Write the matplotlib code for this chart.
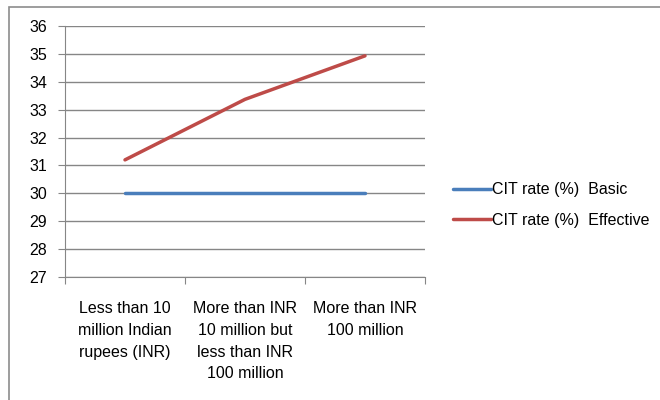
import matplotlib.pyplot as plt
from matplotlib.patches import Rectangle

categories = ["Less than 10\nmillion Indian\nrupees (INR)",
              "More than INR\n10 million but\nless than INR\n100 million",
              "More than INR\n100 million"]
basic = [30, 30, 30]
effective = [31.2, 33.37, 34.93]

plt.rcParams['font.family'] = ['Liberation Sans', 'DejaVu Sans']

fig = plt.figure(figsize=(6.6, 4.0), dpi=100)
fig.patches.append(Rectangle((9/660, -0.1), 1.2, (1 - 7/400) + 0.1, transform=fig.transFigure,
                             fill=False, edgecolor='#8c8c8c', linewidth=1.2))
ax = fig.add_axes([65/660, 1 - 277/400, (425 - 65)/660, (277 - 26)/400])

x = [0, 1, 2]
ax.plot(x, basic, color='#4a7ebb', linewidth=2.5, label='CIT rate (%)  Basic', solid_capstyle='round')
ax.plot(x, effective, color='#be4b48', linewidth=2.5, label='CIT rate (%)  Effective', solid_capstyle='round')

ax.set_xlim(-0.5, 2.5)
ax.set_ylim(27, 36)
ax.set_yticks(range(27, 37))
ax.yaxis.grid(True, color='#868686', linewidth=1)
ax.set_axisbelow(True)

ax.set_xticks([-0.5, 0.5, 1.5, 2.5])
ax.set_xticklabels([])
ax.set_xticks(x, minor=True)
ax.set_xticklabels(categories, minor=True, fontsize=11.5, linespacing=1.58)
ax.tick_params(axis='x', which='minor', length=0, pad=17)
ax.tick_params(axis='x', which='major', length=5, color='#868686', direction='out')
ax.tick_params(axis='y', length=5, color='#868686', labelsize=11.5, pad=8)

for s in ['top', 'right']:
    ax.spines[s].set_visible(False)
for s in ['left', 'bottom']:
    ax.spines[s].set_color('#868686')

ax.legend(loc='center left', bbox_to_anchor=(453/660, 1 - 205/400), bbox_transform=fig.transFigure,
          frameon=False, fontsize=11.5, borderpad=0, borderaxespad=0,
          handlelength=2.4, handletextpad=0.05, labelspacing=0.95)

fig.savefig('out.png')
